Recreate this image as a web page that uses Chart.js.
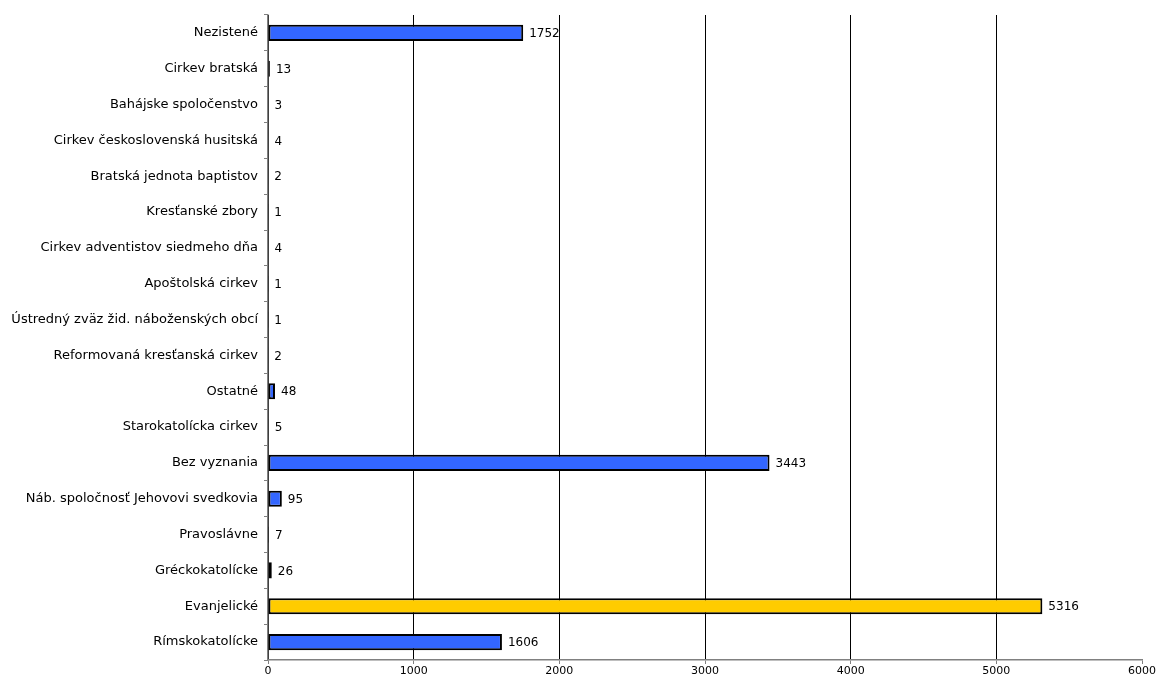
<!DOCTYPE html>
<html>
<head>
<meta charset="utf-8">
<script src="https://cdn.jsdelivr.net/npm/chart.js@4.4.1/dist/chart.umd.min.js"></script>
<style>
  html, body { margin: 0; padding: 0; background: #fff; }
  #wrap { width: 1160px; height: 674px; }
</style>
</head>
<body>
<div id="wrap"><canvas id="chartRelig"></canvas></div>
<script>
  // data
  const categories = [
    'Nezistené', 'Cirkev bratská', 'Bahájske spoločenstvo', 'Cirkev československá husitská',
    'Bratská jednota baptistov', 'Kresťanské zbory', 'Cirkev adventistov siedmeho dňa',
    'Apoštolská cirkev', 'Ústredný zväz žid. náboženských obcí', 'Reformovaná kresťanská cirkev',
    'Ostatné', 'Starokatolícka cirkev', 'Bez vyznania', 'Náb. spoločnosť Jehovovi svedkovia',
    'Pravoslávne', 'Gréckokatolícke', 'Evanjelické', 'Rímskokatolícke'
  ];
  const values = [1752, 13, 3, 4, 2, 1, 4, 1, 1, 2, 48, 5, 3443, 95, 7, 26, 5316, 1606];
  const highlight = 'Evanjelické';
  const xTicks = [0, 1000, 2000, 3000, 4000, 5000, 6000];

  const fontFam = 'Tahoma, "DejaVu Sans", sans-serif';
  Chart.defaults.font.family = fontFam;
  Chart.defaults.color = '#000';

  // value labels at the end of every bar
  const valueLabels = {
    id: 'valueLabels',
    afterDatasetsDraw(chart) {
      const ctx = chart.ctx;
      const meta = chart.getDatasetMeta(0);
      ctx.save();
      ctx.font = '12px ' + fontFam;
      ctx.fillStyle = '#000';
      ctx.textAlign = 'left';
      ctx.textBaseline = 'middle';
      meta.data.forEach((bar, i) => {
        ctx.fillText(String(values[i]), bar.x + 6, bar.y + 1);
      });
      ctx.restore();
    }
  };

  new Chart('chartRelig', {
    type: 'bar',
    data: {
      labels: categories,
      datasets: [{
        data: values,
        backgroundColor: categories.map(c => c === highlight ? '#FFCC00' : '#3366FF'),
        borderColor: '#000',
        borderWidth: 2,
        borderSkipped: false,
        categoryPercentage: 0.9,
        barPercentage: 0.5
      }]
    },
    options: {
      indexAxis: 'y',
      responsive: true,
      maintainAspectRatio: false,
      animation: false,
      layout: { padding: { top: 15, right: 18, left: 0, bottom: 0 } },
      plugins: { legend: false, tooltip: { enabled: false } },
      scales: {
        x: {
          min: 0,
          max: 6000,
          afterBuildTicks: s => { s.ticks = xTicks.map(v => ({ value: v })); },
          afterFit: s => { s.height = 14; },
          grid: {
            color: c => (c.tick && c.tick.value === 6000) ? 'rgba(0,0,0,0)' : '#000',
            tickColor: '#808080', tickLength: 4, lineWidth: 1
          },
          border: { color: '#808080', width: 1.5 },
          ticks: { font: { size: 11 }, padding: 1, maxRotation: 0, callback: v => String(v) }
        },
        y: {
          afterFit: s => { s.width = 268; },
          grid: { drawOnChartArea: false, offset: true, tickColor: '#808080', tickLength: 4 },
          border: { color: '#808080', width: 1.5 },
          ticks: { font: { size: 13 }, padding: 6, autoSkip: false }
        }
      }
    },
    plugins: [valueLabels]
  });
</script>
</body>
</html>
